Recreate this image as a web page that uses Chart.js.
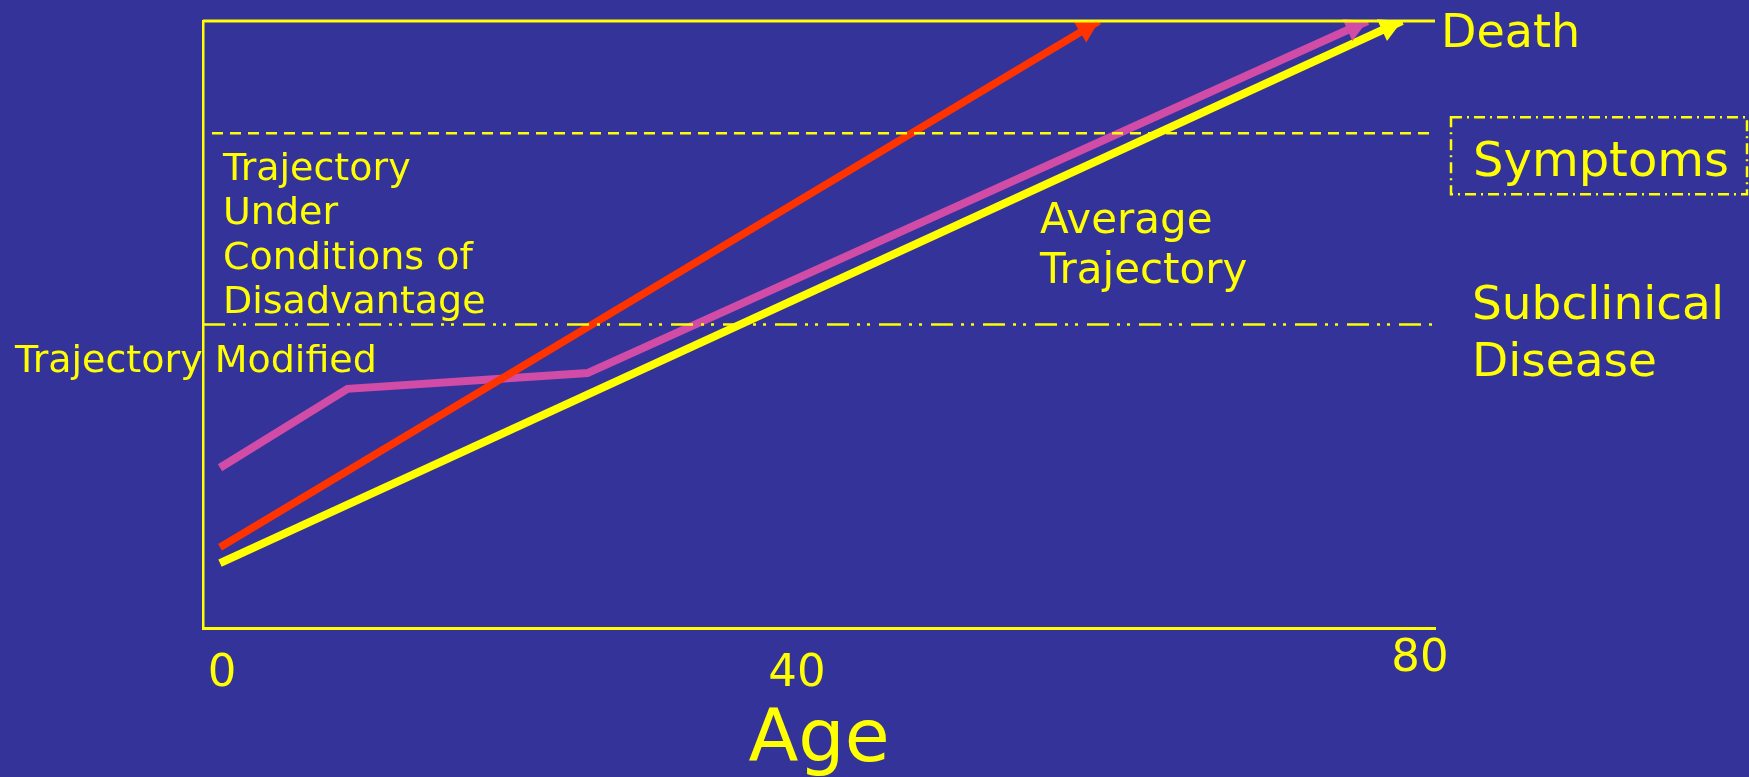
<!DOCTYPE html>
<html>
<head>
<meta charset="utf-8">
<script src="https://cdn.jsdelivr.net/npm/chart.js@4/dist/chart.umd.min.js"></script>
<style>
  html, body { margin: 0; padding: 0; background: #333399; overflow: hidden; }
  #wrap { width: 1749px; height: 777px; position: relative; }
</style>
</head>
<body>
<div id="wrap"><canvas id="c"></canvas></div>
<script>
// Age axis
const ageTicks = [0, 40, 80];
const ageTickLabels = ['0', '40', '80'];

// Disease trajectories: age vs. disease level (100 = death)
const disadvantageAge = [0, 58.6];
const disadvantageLevel = [13.3, 100];
const modifiedAge = [0, 8.5, 24.5, 76.5];
const modifiedLevel = [26.4, 39.4, 42.0, 100];
const averageAge = [0, 78.8];
const averageLevel = [10.7, 100];

// Clinical thresholds on the disease-level axis
const thresholdNames = ['Death', 'Symptoms', 'Subclinical Disease'];
const thresholdLevels = [100, 81.5, 50];

const YELLOW = '#FFFF00';
const FONT = '"DejaVu Sans", Verdana, sans-serif';
const zip = (xs, ys) => xs.map((x, i) => ({ x: x, y: ys[i] }));

// Line style of each threshold
const thresholdStyles = [
  { dash: [], width: 3, inset: 0 },
  { dash: [11, 7], width: 2.5, inset: 9 },
  { dash: [22, 8, 3, 7, 3, 9], width: 2.5, inset: 0 }
];

function text(ctx, str, x, y, size, align) {
  ctx.font = size + 'px ' + FONT;
  ctx.textAlign = align || 'left';
  ctx.textBaseline = 'alphabetic';
  ctx.fillText(str, x, y);
}

const slidePlugin = {
  id: 'slide',
  beforeDraw(chart) {
    const ctx = chart.ctx;
    ctx.save();
    ctx.fillStyle = '#333399';
    ctx.fillRect(0, 0, chart.width, chart.height);
    ctx.restore();
  },
  afterDatasetsDraw(chart) {
    const ctx = chart.ctx;
    const xs = chart.scales.x, ys = chart.scales.y;
    const area = chart.chartArea;

    // arrowheads at the end of every trajectory
    chart.data.datasets.forEach((ds, i) => {
      const pts = chart.getDatasetMeta(i).data;
      const a = pts[pts.length - 2], b = pts[pts.length - 1];
      const ang = Math.atan2(b.y - a.y, b.x - a.x);
      const L = 22, W = 12;
      ctx.save();
      ctx.translate(b.x, b.y);
      ctx.rotate(ang);
      ctx.beginPath();
      ctx.moveTo(0, 0);
      ctx.lineTo(-L, -W);
      ctx.lineTo(-L, W);
      ctx.closePath();
      ctx.fillStyle = ds.borderColor;
      ctx.fill();
      ctx.restore();
    });

    // threshold lines
    ctx.save();
    ctx.strokeStyle = YELLOW;
    thresholdLevels.forEach((lv, i) => {
      const st = thresholdStyles[i];
      const y = ys.getPixelForValue(lv);
      ctx.beginPath();
      ctx.lineWidth = st.width;
      ctx.setLineDash(st.dash);
      ctx.moveTo(area.left + st.inset, y);
      ctx.lineTo(area.right, y);
      ctx.stroke();
    });
    ctx.setLineDash([]);

    // threshold labels
    ctx.fillStyle = YELLOW;
    const yDeath = ys.getPixelForValue(thresholdLevels[0]);
    text(ctx, thresholdNames[0], area.right + 6, yDeath + 26, 46);

    const ySym = ys.getPixelForValue(thresholdLevels[1]);
    ctx.lineWidth = 2.5;
    ctx.setLineDash([11, 5, 2, 5]);
    ctx.strokeRect(area.right + 16, ySym - 16, 296, 77);
    ctx.setLineDash([]);
    text(ctx, thresholdNames[1], area.right + 38, ySym + 43, 48);

    const ySub = ys.getPixelForValue(thresholdLevels[2]);
    const subWords = thresholdNames[2].split(' ');
    text(ctx, subWords[0], area.right + 37, ySub - 6, 47);
    text(ctx, subWords[1], area.right + 37, ySub + 51, 47);

    // trajectory captions
    ['Trajectory', 'Under', 'Conditions of', 'Disadvantage'].forEach((w, i) => {
      text(ctx, w, 223, 180 + i * 44.4, 38);
    });
    text(ctx, 'Trajectory Modified', 15, 372, 38);
    text(ctx, 'Average', 1040, 233, 42);
    text(ctx, 'Trajectory', 1040, 283, 42);

    // age axis labels
    const nudges = [{ dx: 2, dy: 0 }, { dx: -23, dy: 0 }, { dx: 0, dy: -15 }];
    ageTicks.forEach((v, i) => {
      const x = xs.getPixelForValue(v) + nudges[i].dx;
      text(ctx, ageTickLabels[i], x, 686 + nudges[i].dy, 45, 'center');
    });
    text(ctx, 'Age', 819, 761, 73, 'center');
    ctx.restore();
  }
};

const lineStyle = { borderWidth: 8, pointRadius: 0, tension: 0, borderCapStyle: 'butt', borderJoinStyle: 'miter', fill: false };

new Chart(document.getElementById('c'), {
  type: 'line',
  data: {
    datasets: [
      Object.assign({ label: 'Trajectory Under Conditions of Disadvantage', data: zip(disadvantageAge, disadvantageLevel), borderColor: '#FF3300' }, lineStyle, { borderWidth: 7.5 }),
      Object.assign({ label: 'Trajectory Modified', data: zip(modifiedAge, modifiedLevel), borderColor: '#D04CA6' }, lineStyle),
      Object.assign({ label: 'Average Trajectory', data: zip(averageAge, averageLevel), borderColor: YELLOW }, lineStyle)
    ]
  },
  options: {
    responsive: true,
    maintainAspectRatio: false,
    animation: false,
    devicePixelRatio: 1,
    layout: { padding: { left: 203, right: 314, top: 21, bottom: 149 } },
    plugins: { legend: { display: false }, tooltip: { enabled: false } },
    scales: {
      x: {
        type: 'linear', min: -1.133, max: 81,
        grid: { display: false, drawTicks: false },
        ticks: { display: false },
        border: { display: true, color: YELLOW, width: 3 }
      },
      y: {
        type: 'linear', min: 0, max: 100,
        grid: { display: false, drawTicks: false },
        ticks: { display: false },
        border: { display: true, color: YELLOW, width: 2.5 }
      }
    }
  },
  plugins: [slidePlugin]
});
</script>
</body>
</html>
